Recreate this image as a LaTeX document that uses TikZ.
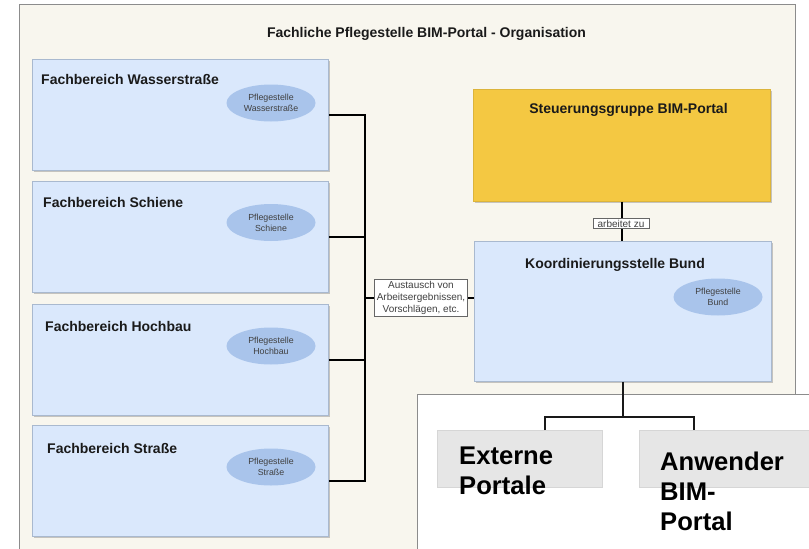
\documentclass[tikz,border=0pt]{standalone}
\usepackage{fontspec}
\setmainfont{Liberation Sans}
\usetikzlibrary{shadows,shapes.geometric}
\definecolor{framefill}{HTML}{F8F6EE}
\definecolor{frameline}{HTML}{8C8C8C}
\definecolor{fbfill}{HTML}{DAE8FC}
\definecolor{fbline}{HTML}{A9B9CF}
\definecolor{ellfill}{HTML}{A9C4EB}
\definecolor{gold}{HTML}{F4C842}
\definecolor{greybox}{HTML}{E6E6E6}
\definecolor{greyline}{HTML}{D6D6D6}
\definecolor{txt}{HTML}{1A1A1A}
\tikzset{
  fbbox/.style={draw=fbline, fill=fbfill, line width=0.8pt, anchor=north west, inner sep=0pt,
    drop shadow={shadow xshift=1.5pt, shadow yshift=-1.5pt, opacity=0.35, fill=black!60}},
  boxtitle/.style={anchor=base west, inner sep=0pt, font=\fontsize{14}{16}\selectfont\bfseries, text=txt},
  ctitle/.style={anchor=base, inner sep=0pt, font=\fontsize{14}{16}\selectfont\bfseries, text=txt},
  pfl/.style={ellipse, fill=ellfill, draw=none, minimum width=89pt, minimum height=37pt, inner sep=0pt,
    align=center, font=\fontsize{8.8}{11}\selectfont, text=black!75},
  bus/.style={line width=2.8pt, black},
  lbl/.style={draw=black!60, fill=white, line width=0.7pt, inner ysep=1.5pt, inner xsep=2pt, align=center,
    font=\fontsize{10}{12.3}\selectfont, text=black!75},
  grey/.style={fill=greybox, draw=greyline, line width=0.8pt, anchor=north west, inner sep=0pt},
  bigtxt/.style={anchor=north west, inner sep=0pt, align=left, font=\fontsize{25.6}{30}\selectfont\bfseries, text=black},
  tree/.style={line width=2pt, black!90}
}
\begin{document}
\begin{tikzpicture}[x=1pt,y=-1pt]
\useasboundingbox (0,0) rectangle (809,549);
\fill[white] (0,0) rectangle (809,549);
% outer frame
\draw[frameline, fill=framefill, line width=1pt] (19,4) rectangle (795,560);
\node[ctitle] (title) at (426.5,37) {Fachliche Pflegestelle BIM-Portal - Organisation};
% bottom-right white area
\draw[frameline, fill=white, line width=1pt] (417,560) -- (417,394) -- (815,394) -- (815,560) -- cycle;

% Fachbereich boxes
\node[fbbox, minimum width=296pt, minimum height=111pt] (b1) at (32,59) {};
\node[fbbox, minimum width=296pt, minimum height=111pt] (b2) at (32,181) {};
\node[fbbox, minimum width=296pt, minimum height=111pt] (b3) at (32,304) {};
\node[fbbox, minimum width=296pt, minimum height=111pt] (b4) at (32,425) {};
\node[boxtitle] (t1) at (41,84) {Fachbereich Wasserstraße};
\node[boxtitle] (t2) at (43,207) {Fachbereich Schiene};
\node[boxtitle] (t3) at (45,331) {Fachbereich Hochbau};
\node[boxtitle] (t4) at (47,453) {Fachbereich Straße};
\node[pfl] (e1) at (271,103) {Pflegestelle\\Wasserstraße};
\node[pfl] (e2) at (271,222.5) {Pflegestelle\\Schiene};
\node[pfl] (e3) at (271,346) {Pflegestelle\\Hochbau};
\node[pfl] (e4) at (271,467) {Pflegestelle\\Straße};

% Steuerungsgruppe and Koordinierungsstelle
\node[fbbox, draw=gold!90!black, fill=gold, minimum width=297pt, minimum height=112pt] (st) at (473,89) {};
\node[ctitle] (stt) at (628.5,113.3) {Steuerungsgruppe BIM-Portal};
\node[fbbox, minimum width=297pt, minimum height=140pt] (ko) at (474,241) {};
\node[ctitle] (kot) at (615,268) {Koordinierungsstelle Bund};
\node[pfl] (e5) at (718,297) {Pflegestelle\\Bund};

% bus connectors
\coordinate (busx) at (365,0);
\draw[bus] (b1.east) -| (busx |- b4.east) -- (b4.east);
\draw[bus] (b2.east) -- (b2.east -| busx);
\draw[bus] (b3.east) -- (b3.east -| busx);
\coordinate (exc) at (421,298);
\draw[bus] (busx |- exc) -- (exc -| ko.west);
\node[lbl] (ex) at (exc) {Austausch von\\Arbeitsergebnissen,\\Vorschlägen, etc.};

% Steuerung -> Koordinierung
\draw[bus] (st.south) -- (st.south |- ko.north);
\node[lbl, inner xsep=4.5pt] (az) at (621,223.5) {arbeitet zu};

% bottom tree
\node[grey, minimum width=165pt, minimum height=57pt] (ext) at (437,430) {};
\node[grey, minimum width=180pt, minimum height=57pt] (anw) at (639,430) {};
\node[bigtxt] (extt) at (459,447) {Externe\\Portale};
\node[bigtxt] (anwt) at (660,452) {Anwender\\BIM-\\Portal};
\coordinate (tl) at (545,417);
\coordinate (tr) at (694,417);
\draw[tree] (ko.south) -- (ko.south |- tl);
\draw[tree] (tl |- ext.north) -- (tl) -- (tr) -- (tr |- anw.north);
\end{tikzpicture}
\end{document}
